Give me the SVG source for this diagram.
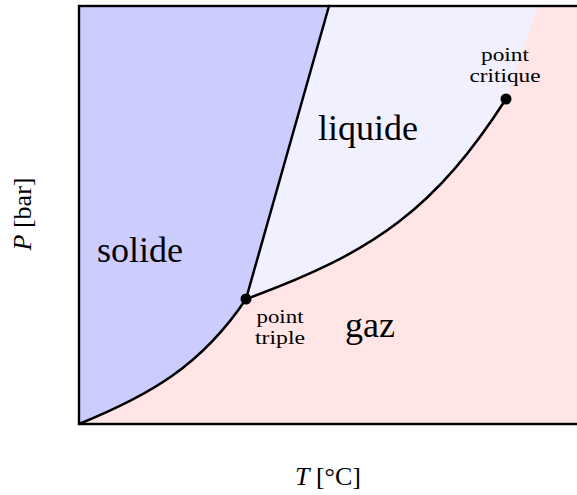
<svg xmlns="http://www.w3.org/2000/svg" width="577" height="495" viewBox="0 0 577 495">
<style>
.curve{fill:none;stroke:#000;stroke-width:2.5;stroke-linejoin:round;stroke-linecap:round}
.big{font-family:"Liberation Serif","DejaVu Serif",serif;font-size:36px;fill:#000}
.small{font-family:"Liberation Serif","DejaVu Serif",serif;font-size:19px;fill:#000;text-anchor:middle}
.axis{font-family:"Liberation Serif","DejaVu Serif",serif;font-size:26px;fill:#000;text-anchor:middle}
.dot{fill:#000}
</style>
<g id="regions">
<rect id="gaz-region" x="79" y="6" width="520" height="418" fill="#ffe5e5"/>
<path id="solide-region" d="M79,6 L329,6 L246,299 C201,366.5 148,396 79,424 Z" fill="#ccccff"/>
<path id="liquide-region" d="M329,6 L538,6 L506,99 C436,207.5 376,252 246,299 Z" fill="#f0f0ff"/>
</g>
<g id="connectors">
<path id="fusion" class="curve" d="M246,299 L329,6"/>
<path id="sublimation" class="curve" d="M79,424 C148,396 201,366.5 246,299"/>
<path id="vaporisation" class="curve" d="M246,299 C376,252 436,207.5 506,99"/>
</g>
<g id="frame">
<rect x="79" y="6" width="520" height="418" fill="none" stroke="#000" stroke-width="2.4"/>
</g>
<g id="point-triple">
<circle class="dot" cx="246" cy="299" r="5.5"/>
<text class="small" x="280" y="323" textLength="47" lengthAdjust="spacingAndGlyphs">point</text>
<text class="small" x="280" y="344" textLength="50" lengthAdjust="spacingAndGlyphs">triple</text>
</g>
<g id="point-critique">
<circle class="dot" cx="506" cy="99" r="5.5"/>
<text class="small" x="505" y="61" textLength="48" lengthAdjust="spacingAndGlyphs">point</text>
<text class="small" x="505" y="82" textLength="71" lengthAdjust="spacingAndGlyphs">critique</text>
</g>
<g id="label-solide"><text class="big" x="97" y="262">solide</text></g>
<g id="label-liquide"><text class="big" x="318" y="140">liquide</text></g>
<g id="label-gaz"><text class="big" x="345" y="337">gaz</text></g>
<g id="axis-T"><text class="axis" x="328" y="485"><tspan font-style="italic">T</tspan> [°C]</text></g>
<g id="axis-P"><text class="axis" transform="translate(31,214) rotate(-90)"><tspan font-style="italic">P</tspan> [bar]</text></g>
</svg>
